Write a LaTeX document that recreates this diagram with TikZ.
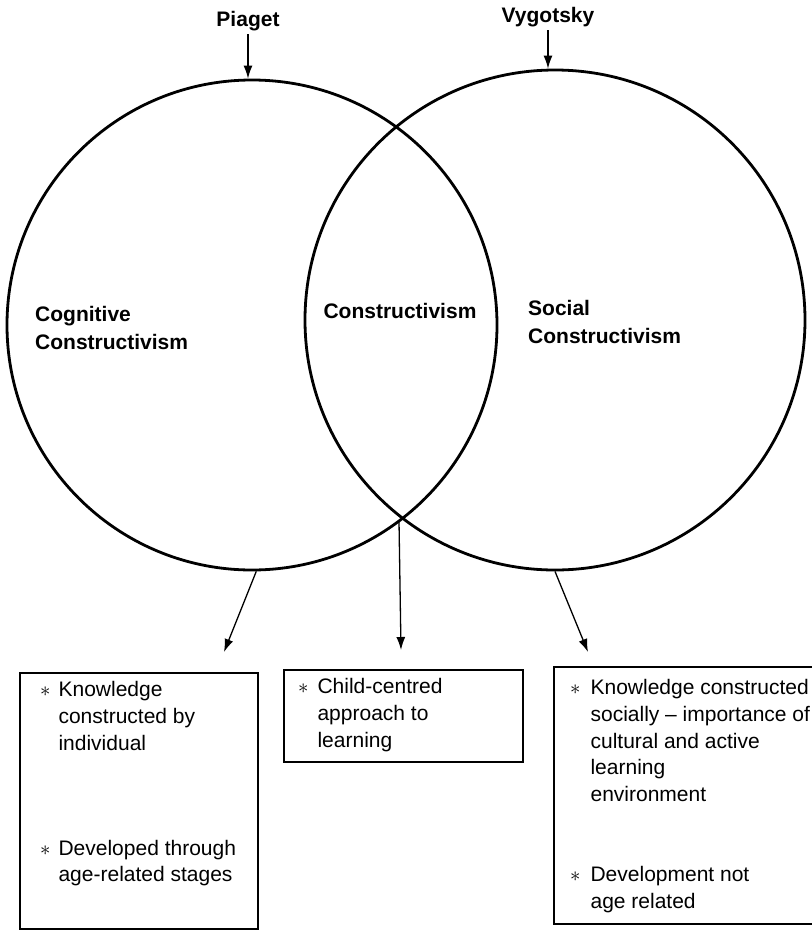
\documentclass[tikz,border=0pt]{standalone}
\usepackage{fontspec}
\setmainfont{Liberation Sans}
\usetikzlibrary{arrows.meta,positioning}

\newcommand{\bul}{$\ast$}

\begin{document}
\begin{tikzpicture}[x=1pt,y=-1pt, >={Latex[length=13pt,width=9pt]},
  ring/.style={draw,circle,line width=2.8pt,inner sep=0pt},
  lbl/.style={font=\bfseries\fontsize{21}{28}\selectfont,align=left,inner sep=0pt},
  who/.style={font=\bfseries\fontsize{21}{25}\selectfont,inner sep=3pt},
  card/.style={draw,line width=2pt,anchor=north west,inner sep=0pt},
  notes/.style={font=\fontsize{21}{26.7}\selectfont,anchor=north west,inner sep=0pt},
  arr/.style={->,line width=1.3pt}]
\useasboundingbox (0,0) rectangle (812,930);

% the two theories
\node[ring,minimum size=490pt] (cog) at (252,325) {};
\node[ring,minimum size=500pt] (soc) at (555,320) {};
\coordinate (meet) at (399,521);

\node[who] (piaget) at (248,21) {Piaget};
\node[who] (vyg) at (548,17) {Vygotsky};
\draw[arr] (piaget.south) -- (piaget.south |- cog.north);
\draw[arr] (vyg.south) -- (vyg.south |- soc.north);

\node[lbl,anchor=west] (cogl) at (35,328) {Cognitive\\Constructivism};
\node[lbl] (conl) at (400,311) {Constructivism};
\node[lbl,anchor=west] (socl) at (528,322) {Social\\Constructivism};

% boxes below
\node[card,minimum width=238pt,minimum height=256pt] (b1) at (19,672) {};
\node[card,minimum width=239pt,minimum height=92pt] (b2) at (283,669) {};
\node[card,minimum width=267pt,minimum height=257pt] (b3) at (553,666) {};

\node[notes] (t1) at ([shift={(21,6)}]b1.north west) {\begin{tabular}{@{}l@{\hspace{8pt}}l@{}}
\bul & Knowledge\\
 & constructed by\\
 & individual\\[78pt]
\bul & Developed through\\
 & age-related stages
\end{tabular}};
\node[notes] (t2) at ([shift={(15,6)}]b2.north west) {\begin{tabular}{@{}l@{\hspace{9pt}}l@{}}
\bul & Child-centred\\
 & approach to\\
 & learning
\end{tabular}};
\node[notes] (t3) at ([shift={(17,10)}]b3.north west) {\begin{tabular}{@{}l@{\hspace{10pt}}l@{}}
\bul & Knowledge constructed\\
 & socially \textendash{} importance of\\
 & cultural and active\\
 & learning\\
 & environment\\[53pt]
\bul & Development not\\
 & age related
\end{tabular}};

\coordinate (e1) at (224,652);
\coordinate (e2) at (401,650);
\coordinate (e3) at (588,652);
\draw[arr] (cog.-89) -- (e1);
\draw[arr] (meet) -- (e2);
\draw[arr] (soc.south) -- (e3);
\end{tikzpicture}
\end{document}
